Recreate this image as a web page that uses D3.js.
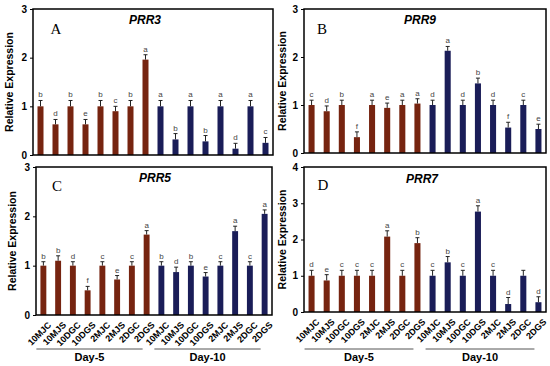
<!DOCTYPE html>
<html><head><meta charset="utf-8">
<script src="https://cdn.jsdelivr.net/npm/d3@7"></script>
<style>body{margin:0;background:#fff}svg{display:block;font-family:"Liberation Sans",Arial,sans-serif}</style>
</head><body><svg id="c" width="550" height="366"></svg>
<script>
const categories = ["10MJC","10MJS","10DGC","10DGS","2MJC","2MJS","2DGC","2DGS","10MJC","10MJS","10DGC","10DGS","2MJC","2MJS","2DGC","2DGS"];
const groups = ["Day-5","Day-10"];
const valuesPRR3 = [1.0,0.63,1.0,0.63,1.0,0.9,1.0,1.96,1.0,0.32,1.0,0.28,1.0,0.13,1.0,0.25];
const errorsPRR3 = [0.12,0.1,0.12,0.1,0.12,0.1,0.12,0.1,0.12,0.12,0.12,0.12,0.12,0.11,0.12,0.11];
const lettersPRR3 = ["b","d","b","e","b","c","b","a","a","b","a","b","a","d","a","c"];
const valuesPRR9 = [1.0,0.87,1.0,0.33,1.0,0.94,1.0,1.03,1.0,2.13,1.0,1.45,1.0,0.53,1.0,0.5];
const errorsPRR9 = [0.1,0.11,0.1,0.11,0.1,0.1,0.1,0.1,0.1,0.09,0.1,0.11,0.1,0.11,0.1,0.1];
const lettersPRR9 = ["c","d","b","f","a","e","a","a","d","a","d","b","d","f","c","e"];
const valuesPRR5 = [1.0,1.1,1.0,0.5,1.0,0.72,1.0,1.63,1.0,0.87,1.0,0.78,1.0,1.7,1.0,2.05];
const errorsPRR5 = [0.08,0.1,0.08,0.08,0.08,0.08,0.08,0.08,0.08,0.1,0.08,0.08,0.08,0.1,0.08,0.08];
const lettersPRR5 = ["b","b","d","f","c","e","c","a","b","d","b","e","c","a","c","a"];
const valuesPRR7 = [1.0,0.87,1.0,1.0,1.0,2.08,1.0,1.9,1.0,1.37,1.0,2.77,1.0,0.22,1.0,0.27];
const errorsPRR7 = [0.15,0.16,0.15,0.15,0.15,0.16,0.15,0.15,0.15,0.16,0.15,0.16,0.15,0.18,0.15,0.15];
const lettersPRR7 = ["d","e","c","c","c","a","c","b","c","b","c","a","c","d","","d"];
const yTicks3 = [0,1,2,3];
const yTicks4 = [0,1,2,3,4];

const panels = [
  {gene:"PRR3", tag:"A", v:valuesPRR3, e:errorsPRR3, l:lettersPRR3, ticks:yTicks3, x0:33, x1:273, top:9, bot:155, yl:9, xlab:false, gx:145, gy:20, tx:56, ty:29},
  {gene:"PRR9", tag:"B", v:valuesPRR9, e:errorsPRR9, l:lettersPRR9, ticks:yTicks3, x0:304, x1:546, top:9, bot:153, yl:282, xlab:false, gx:420, gy:20, tx:322, ty:29},
  {gene:"PRR5", tag:"C", v:valuesPRR5, e:errorsPRR5, l:lettersPRR5, ticks:yTicks3, x0:36, x1:272, top:167, bot:315, yl:12, xlab:true, gx:155, gy:178, tx:57, ty:186},
  {gene:"PRR7", tag:"D", v:valuesPRR7, e:errorsPRR7, l:lettersPRR7, ticks:yTicks4, x0:304, x1:546, top:167, bot:312, yl:282, xlab:true, gx:422, gy:179, tx:323, ty:185}
];
const colDay5 = "#762410", colDay10 = "#1a1d58";
const svg = d3.select("#c");

panels.forEach(p => {
  const g = svg.append("g");
  const idx = d3.range(categories.length);
  const x = d3.scaleBand().domain(idx).range([p.x0,p.x1]).paddingInner(0.6).paddingOuter(0.3);
  const y = d3.scaleLinear().domain([0, d3.max(p.ticks)]).range([p.bot, p.top]);
  g.selectAll("rect.bar").data(idx).join("rect").attr("class","bar")
    .attr("x", i => x(i)).attr("width", x.bandwidth())
    .attr("y", i => y(p.v[i])).attr("height", i => y(0) - y(p.v[i]))
    .attr("fill", i => i < 8 ? colDay5 : colDay10);
  const cx = i => x(i) + x.bandwidth()/2;
  g.selectAll("line.err").data(idx).join("line").attr("class","err")
    .attr("x1", cx).attr("x2", cx)
    .attr("y1", i => y(p.v[i])).attr("y2", i => y(p.v[i]+p.e[i]))
    .attr("stroke","#222").attr("stroke-width",1);
  g.selectAll("line.cap").data(idx).join("line").attr("class","cap")
    .attr("x1", i => cx(i)-2).attr("x2", i => cx(i)+2)
    .attr("y1", i => y(p.v[i]+p.e[i])).attr("y2", i => y(p.v[i]+p.e[i]))
    .attr("stroke","#222").attr("stroke-width",1);
  g.selectAll("text.let").data(idx).join("text").attr("class","let")
    .attr("x", cx).attr("y", i => y(p.v[i]+p.e[i]) - 3)
    .attr("text-anchor","middle").attr("font-size",8).attr("fill","#444")
    .text(i => p.l[i]);
  g.append("rect").attr("x",p.x0).attr("y",p.top).attr("width",p.x1-p.x0).attr("height",p.bot-p.top)
    .attr("fill","none").attr("stroke","#000").attr("stroke-width",1.5);
  const ax = g.append("g").attr("transform",`translate(${p.x0},0)`)
    .call(d3.axisLeft(y).tickValues(p.ticks).tickSize(3).tickFormat(d3.format("d")));
  ax.select(".domain").remove();
  ax.selectAll("text").attr("font-size",10).attr("font-weight","bold").attr("font-family","Liberation Sans, Arial").attr("fill","#000");
  ax.selectAll("line").attr("stroke","#000");
  g.append("text").attr("transform",`translate(${p.yl},${(p.top+p.bot)/2}) rotate(-90)`)
    .attr("text-anchor","middle").attr("dominant-baseline","central")
    .attr("font-size",10.5).attr("font-weight","bold").text("Relative Expression");
  g.append("text").attr("x",p.gx).attr("y",p.gy).attr("text-anchor","middle").attr("dominant-baseline","central")
    .attr("font-size",12).attr("font-weight","bold").attr("font-style","italic").text(p.gene);
  g.append("text").attr("x",p.tx).attr("y",p.ty).attr("text-anchor","middle").attr("dominant-baseline","central")
    .attr("font-size",15).attr("font-family","Liberation Serif, Times New Roman, serif").text(p.tag);
  if (p.xlab) {
    g.selectAll("text.xl").data(idx).join("text").attr("class","xl")
      .attr("transform", i => `translate(${cx(i)+4},${p.bot+6}) rotate(-45)`)
      .attr("text-anchor","end").attr("dominant-baseline","hanging")
      .attr("font-size",9).attr("font-weight","bold").text(i => categories[i]);
    groups.forEach((gr, k) => {
      const a = cx(k*8) - 7, b = cx(k*8+7) - 4;
      g.append("line").attr("x1",a).attr("x2",b).attr("y1",349).attr("y2",349)
        .attr("stroke","#555").attr("stroke-width",1);
      g.append("text").attr("x",(a+b)/2).attr("y",357).attr("text-anchor","middle").attr("dominant-baseline","central")
        .attr("font-size",11).attr("font-weight","bold").text(gr);
    });
  }
});
</script></body></html>
